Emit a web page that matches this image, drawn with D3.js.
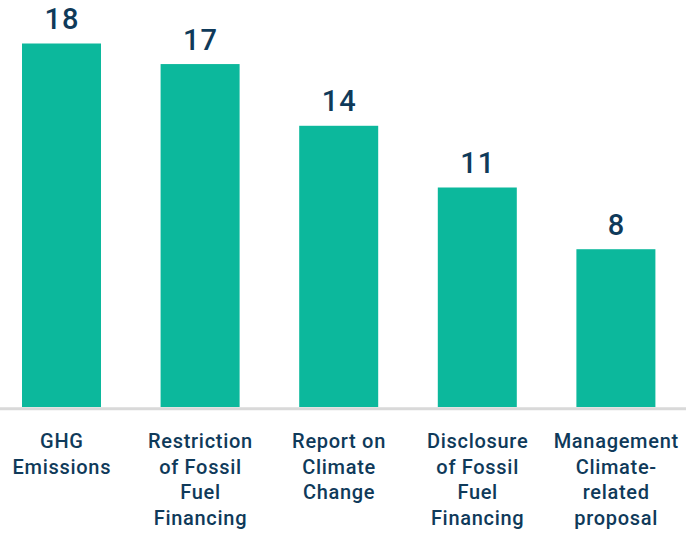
<!DOCTYPE html>
<html>
<head>
<meta charset="utf-8">
<script src="https://cdn.jsdelivr.net/npm/d3@7"></script>
<style>
  body { margin: 0; background: #fff; }
</style>
</head>
<body>
<div id="chart"></div>
<script>
// chart data
var categories = ["GHG Emissions", "Restriction of Fossil Fuel Financing", "Report on Climate Change",
                  "Disclosure of Fossil Fuel Financing", "Management Climate-related proposal"];
// how each category label is broken into lines
var labelLines = [
  ["GHG", "Emissions"],
  ["Restriction", "of Fossil", "Fuel", "Financing"],
  ["Report on", "Climate", "Change"],
  ["Disclosure", "of Fossil", "Fuel", "Financing"],
  ["Management", "Climate-", "related", "proposal"]
];
var counts = [18, 17, 14, 11, 8];

var width = 692, height = 533;
var barColor = "#0cb89c", textColor = "#0f3a5a";

var svg = d3.select("#chart")
  .append("svg")
  .attr("width", width)
  .attr("height", height);

var x = d3.scaleBand()
  .domain(categories)
  .range([22, 655.4])
  .paddingInner(0.43)
  .paddingOuter(0);

// baseline at 407 (axis doesn't quite start at zero)
var y0 = 0.33;
var y = d3.scaleLinear()
  .domain([y0, 18])
  .range([407, 43.5]);

// bars
svg.selectAll("rect.bar")
  .data(counts)
  .enter()
  .append("rect")
    .attr("class", "bar")
    .attr("x", function(d, i){ return x(categories[i]) })
    .attr("y", function(d){ return y(d) })
    .attr("width", x.bandwidth())
    .attr("height", function(d){ return y(y0) - y(d) })
    .style("fill", barColor)

// axis line
svg.append("line")
  .attr("x1", 0)
  .attr("x2", 686)
  .attr("y1", y(y0) + 1.7)
  .attr("y2", y(y0) + 1.7)
  .attr("stroke", "#d9d9d9")
  .attr("stroke-width", 3)

// value labels
svg.selectAll("text.val")
  .data(counts)
  .enter()
  .append("text")
    .attr("class", "val")
    .attr("x", function(d, i){ return x(categories[i]) + x.bandwidth()/2 + 0.5 })
    .attr("y", function(d){ return y(d) - 14.5 })
    .attr("text-anchor", "middle")
    .style("font-family", "Roboto, sans-serif")
    .style("font-size", "29px")
    .style("font-weight", "500")
    .style("letter-spacing", "1px")
    .style("fill", textColor)
    .text(function(d){ return d })

// category labels
var lab = svg.selectAll("text.cat")
  .data(labelLines)
  .enter()
  .append("text")
    .attr("class", "cat")
    .attr("text-anchor", "middle")
    .style("font-family", "Roboto, sans-serif")
    .style("font-size", "20px")
    .style("font-weight", "500")
    .style("letter-spacing", "0.7px")
    .style("fill", textColor)

lab.selectAll("tspan")
  .data(function(d, i){ return d.map(function(t){ return {t: t, i: i} }) })
  .enter()
  .append("tspan")
    .attr("x", function(d){ return x(categories[d.i]) + x.bandwidth()/2 + 0.35 })
    .attr("y", function(d, j){ return 448 + j*25.5 })
    .text(function(d){ return d.t })
</script>
</body>
</html>
